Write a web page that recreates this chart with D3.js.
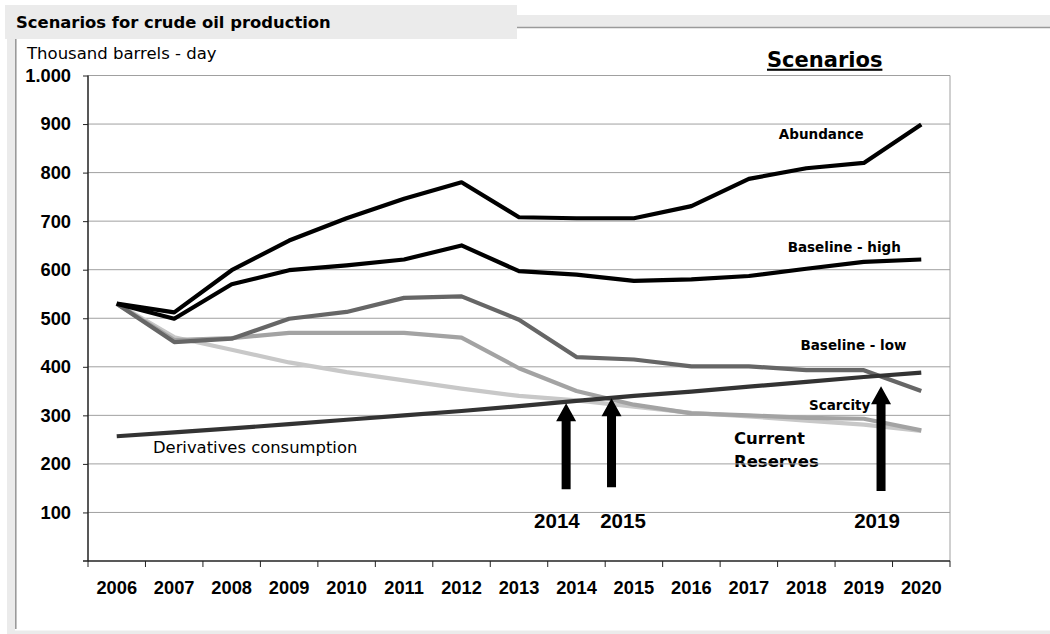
<!DOCTYPE html>
<html>
<head>
<meta charset="utf-8">
<script src="https://cdn.jsdelivr.net/npm/d3@7/dist/d3.min.js"></script>
<style>
  html, body { margin: 0; padding: 0; background: #fff; }
  svg { display: block; }
</style>
</head>
<body>
<svg id="chart" width="1050" height="634"></svg>
<script>
// Crude oil production scenarios, thousand barrels per day
const years = ["2006","2007","2008","2009","2010","2011","2012","2013","2014","2015","2016","2017","2018","2019","2020"];
const yTicks = [100, 200, 300, 400, 500, 600, 700, 800, 900, 1000];

const abundance      = [530, 512, 599, 660, 706, 746, 780, 708, 706, 706, 731, 787, 809, 820, 899];
const baselineHigh   = [530, 499, 570, 599, 609, 621, 650, 597, 590, 577, 580, 587, 602, 616, 621];
const baselineLow    = [530, 451, 458, 499, 513, 542, 545, 497, 420, 415, 401, 401, 393, 393, 350];
const scarcity       = [530, 455, 459, 470, 470, 470, 460, 397, 350, 322, 304, 300, 295, 293, 269];
const currentRes     = [530, 461, 435, 409, 389, 372, 355, 340, 331, 318, 305, 298, 289, 281, 268];
const derivatives    = [257, 265, 273, 282, 291, 300, 309, 319, 330, 340, 349, 359, 369, 379, 388];

const seriesList = [
  { name: "Current Reserves", values: currentRes,   color: "#c8c8c8" },
  { name: "Scarcity",         values: scarcity,     color: "#a3a3a3" },
  { name: "Baseline - low",   values: baselineLow,  color: "#666666" },
  { name: "Baseline - high",  values: baselineHigh, color: "#000000" },
  { name: "Abundance",        values: abundance,    color: "#000000" },
  { name: "Derivatives consumption", values: derivatives, color: "#333333" }
];

// Series labels placed in data units (year, value)
const seriesLabels = [
  { text: "Abundance",       year: 2018.26, value: 879, size: 13.5, weight: "bold", anchor: "middle" },
  { text: "Baseline - high", year: 2018.66, value: 647, size: 13.5, weight: "bold", anchor: "middle" },
  { text: "Baseline - low",  year: 2018.82, value: 444, size: 13.5, weight: "bold", anchor: "middle" },
  { text: "Scarcity",        year: 2018.58, value: 321, size: 13.5, weight: "bold", anchor: "middle" },
  { text: "Current",         year: 2016.74, value: 253, size: 16.5, weight: "bold", anchor: "start" },
  { text: "Reserves",        year: 2016.74, value: 206, size: 16.5, weight: "bold", anchor: "start" },
  { text: "Derivatives consumption", year: 2006.63, value: 235, size: 16.4, weight: "normal", anchor: "start" }
];

// Up-arrows marking where consumption meets production
const arrows = [
  { label: "2014", year: 2013.82, labelYear: 2013.66, from: 148, to: 325 },
  { label: "2015", year: 2014.61, labelYear: 2014.81, from: 152, to: 335 },
  { label: "2019", year: 2019.30, labelYear: 2019.23, from: 144, to: 360 }
];

const svg = d3.select("#chart");
const W = 1050, H = 634;
const plot = { left: 88, right: 950, top: 75.5, bottom: 561 };

// ---- frame ----
svg.append("rect").attr("x", 0).attr("y", 0).attr("width", W).attr("height", H).attr("fill", "#fff");
svg.append("rect").attr("x", 517).attr("y", 15).attr("width", W - 517).attr("height", 12).attr("fill", "#ebebeb");
svg.append("line").attr("x1", 517).attr("x2", W).attr("y1", 27.5).attr("y2", 27.5).attr("stroke", "#9a9a9a").attr("stroke-width", 1.5);
svg.append("rect").attr("x", 5).attr("y", 5).attr("width", 512).attr("height", 34).attr("fill", "#ebebeb");
svg.append("rect").attr("x", 7).attr("y", 39).attr("width", 8).attr("height", 592).attr("fill", "#ebebeb");
svg.append("line").attr("x1", 15.8).attr("x2", 15.8).attr("y1", 39).attr("y2", 629).attr("stroke", "#9a9a9a").attr("stroke-width", 1.6);
svg.append("rect").attr("x", 7).attr("y", 630.5).attr("width", W - 7).attr("height", 4).attr("fill", "#ebebeb");

svg.append("text").attr("x", 16).attr("y", 28)
  .attr("font-family", "DejaVu Sans, Verdana, sans-serif").attr("font-weight", "bold").attr("font-size", 16.4)
  .attr("fill", "#000").text("Scenarios for crude oil production");

svg.append("text").attr("x", 27).attr("y", 59)
  .attr("font-family", "DejaVu Sans, Verdana, sans-serif").attr("font-size", 16.5)
  .attr("fill", "#000").text("Thousand barrels - day");

svg.append("text").attr("x", 824.7).attr("y", 66.7).attr("text-anchor", "middle")
  .attr("font-family", "DejaVu Sans, Verdana, sans-serif").attr("font-weight", "bold").attr("font-size", 21)
  .attr("text-decoration", "underline")
  .attr("fill", "#000").text("Scenarios");

// ---- scales ----
const x = d3.scaleBand().domain(years).range([plot.left, plot.right]).padding(0);
const y = d3.scaleLinear().domain([0, 1000]).range([plot.bottom, plot.top]);
const cx = d => x(d) + x.bandwidth() / 2;
const xYear = d3.scaleLinear().domain([2006, 2020]).range([cx("2006"), cx("2020")]);

// ---- series labels (under the gridlines, as in the source workbook) ----
svg.append("g").selectAll("text").data(seriesLabels).join("text")
  .attr("x", d => xYear(d.year)).attr("y", d => y(d.value)).attr("dy", "0.36em")
  .attr("text-anchor", d => d.anchor)
  .attr("font-family", "DejaVu Sans, Verdana, sans-serif")
  .attr("font-weight", d => d.weight).attr("font-size", d => d.size)
  .attr("fill", "#000").text(d => d.text);

// gridlines
svg.append("g").selectAll("line").data(yTicks).join("line")
  .attr("x1", plot.left).attr("x2", plot.right)
  .attr("y1", d => y(d)).attr("y2", d => y(d))
  .attr("stroke", "#a0a0a0").attr("stroke-width", 1);
// right border
svg.append("line").attr("x1", plot.right).attr("x2", plot.right)
  .attr("y1", plot.top).attr("y2", plot.bottom).attr("stroke", "#a0a0a0").attr("stroke-width", 1);

// y axis
const yAxis = d3.axisLeft(y).tickValues(yTicks).tickSize(5).tickPadding(12)
  .tickFormat(d => d3.format(",")(d).replace(",", "."));
const gy = svg.append("g").attr("transform", `translate(${plot.left},0)`).call(yAxis);
gy.select(".domain").attr("d", `M-5,${plot.bottom}H0V${plot.top}`).attr("stroke", "#222").attr("stroke-width", 1.5);
gy.selectAll(".tick line").attr("stroke", "#222");
gy.selectAll(".tick text").attr("font-family", "Liberation Sans, Arial, sans-serif")
  .attr("font-weight", "bold").attr("font-size", 18.3).attr("fill", "#000");

// x axis: labels at band centres, ticks at band edges
const xAxis = d3.axisBottom(x).tickSize(0).tickPadding(20);
const gx = svg.append("g").attr("transform", `translate(0,${plot.bottom})`).call(xAxis);
gx.select(".domain").attr("d", `M${plot.left},0H${plot.right}`).attr("stroke", "#222").attr("stroke-width", 1.5);
gx.selectAll(".tick text").attr("font-family", "Liberation Sans, Arial, sans-serif")
  .attr("font-weight", "bold").attr("font-size", 18.3).attr("fill", "#000");
gx.append("g").selectAll("line").data(years.concat(["__end"])).join("line")
  .attr("x1", d => d === "__end" ? plot.right : x(d))
  .attr("x2", d => d === "__end" ? plot.right : x(d))
  .attr("y1", 0).attr("y2", 6).attr("stroke", "#222").attr("stroke-width", 1);

// ---- series ----
const line = d3.line().x((v, i) => cx(years[i])).y(v => y(v));
svg.append("g").selectAll("path").data(seriesList).join("path")
  .attr("d", s => line(s.values))
  .attr("fill", "none").attr("stroke", s => s.color)
  .attr("stroke-width", 4.2).attr("stroke-linejoin", "round").attr("stroke-linecap", "butt");

// ---- arrows ----
const ga = svg.append("g");
arrows.forEach(a => {
  const ax = xYear(a.year), yb = y(a.from), yt = y(a.to);
  const headH = 18, headW = 10, shaft = 4.5;
  ga.append("path")
    .attr("d", `M${ax - shaft},${yb}V${yt + headH}H${ax - headW}L${ax},${yt}L${ax + headW},${yt + headH}H${ax + shaft}V${yb}Z`)
    .attr("fill", "#000");
  ga.append("text").attr("x", xYear(a.labelYear)).attr("y", y(84)).attr("dy", "0.36em")
    .attr("text-anchor", "middle")
    .attr("font-family", "Liberation Sans, Arial, sans-serif").attr("font-weight", "bold").attr("font-size", 20.5)
    .attr("fill", "#000").text(a.label);
});
</script>
</body>
</html>
